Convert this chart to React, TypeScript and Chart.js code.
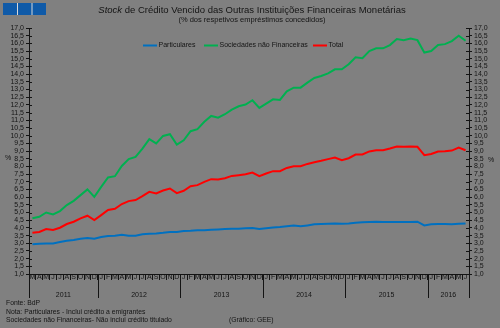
import React, { useEffect, useRef } from "react";
import { Chart, registerables } from "chart.js";

Chart.register(...registerables);

const months: string[] = [
  "M","A","M","J","J","A","S","O","N","D",
  "J","F","M","A","M","J","J","A","S","O","N","D",
  "J","F","M","A","M","J","J","A","S","O","N","D",
  "J","F","M","A","M","J","J","A","S","O","N","D",
  "J","F","M","A","M","J","J","A","S","O","N","D",
  "J","F","M","A","M","J",
];
const years: string[] = ["2011", "2012", "2013", "2014", "2015", "2016"];
const yearStarts: number[] = [0, 10, 22, 34, 46, 58];

const particulares: number[] = [
  2.93,2.97,2.99,2.99,3.08,3.16,3.21,3.29,3.34,3.29,
  3.4,3.47,3.49,3.55,3.49,3.49,3.58,3.62,3.64,3.68,
  3.73,3.73,3.79,3.81,3.84,3.84,3.88,3.9,3.92,3.94,
  3.94,3.97,3.99,3.92,3.97,4.03,4.05,4.1,4.16,4.1,
  4.16,4.23,4.25,4.27,4.29,4.27,4.29,4.33,4.36,4.38,
  4.4,4.38,4.38,4.38,4.38,4.38,4.4,4.16,4.23,4.25,
  4.25,4.23,4.27,4.29,
];
const sociedades: number[] = [
  4.62,4.72,5.0,4.88,5.09,5.48,5.76,6.13,6.5,6.02,
  6.67,7.28,7.36,8.03,8.47,8.62,9.16,9.77,9.49,9.98,
  10.09,9.42,9.7,10.29,10.42,10.9,11.28,11.17,11.39,11.69,
  11.91,12.02,12.3,11.8,12.08,12.36,12.32,12.88,13.12,13.12,
  13.45,13.75,13.88,14.05,14.31,14.31,14.64,15.09,15.03,15.5,
  15.68,15.68,15.89,16.28,16.21,16.32,16.21,15.4,15.5,15.89,
  15.95,16.15,16.5,16.17,
];
const total: number[] = [
  3.68,3.73,3.92,3.86,4.01,4.25,4.4,4.62,4.79,4.51,
  4.83,5.16,5.24,5.55,5.74,5.81,6.06,6.34,6.24,6.43,
  6.56,6.26,6.41,6.71,6.78,6.99,7.17,7.15,7.23,7.38,
  7.43,7.49,7.6,7.36,7.54,7.69,7.69,7.9,8.01,8.01,
  8.16,8.27,8.36,8.47,8.58,8.4,8.53,8.77,8.77,8.97,
  9.05,9.05,9.16,9.29,9.27,9.29,9.27,8.73,8.81,8.97,
  8.99,9.03,9.23,9.05,
];

const seriesNames: string[] = ["Particulares", "Sociedades não Financeiras", "Total"];
const seriesColors: string[] = ["#0070C0", "#00B050", "#FF0000"];

const titleItalic = "Stock";
const titleRest = " de Crédito Vencido das Outras Instituições Financeiras Monetárias";
const subtitle = "(% dos respetivos empréstimos concedidos)";
const footer: string[] = [
  "Fonte: BdP",
  "Nota: Particulares - Inclui crédito a emigrantes",
  "Sociedades não Financeiras- Não inclui crédito titulado",
];
const credit = "(Gráfico: GEE)";

const FONT = '"Liberation Sans", Arial, sans-serif';
const INK = "#141414";

const decorPlugin = {
  id: "decor",
  afterDraw(chart: any) {
    const ctx = chart.ctx as CanvasRenderingContext2D;
    const xs = chart.scales.x;
    const area = chart.chartArea;
    ctx.save();

    // logo
    ctx.fillStyle = "#0F5AA8";
    ctx.fillRect(3, 3, 43, 12);
    ctx.fillStyle = "#d8d8d8";
    ctx.fillRect(17, 3, 1, 12);
    ctx.fillRect(31.5, 3, 1, 12);

    // title
    ctx.fillStyle = INK;
    ctx.textBaseline = "middle";
    ctx.textAlign = "left";
    ctx.font = `italic 9.5px ${FONT}`;
    const wI = ctx.measureText(titleItalic).width;
    ctx.font = `9.5px ${FONT}`;
    const wR = ctx.measureText(titleRest).width;
    let tx = 252 - (wI + wR) / 2;
    ctx.font = `italic 9.5px ${FONT}`;
    ctx.fillText(titleItalic, tx, 10);
    ctx.font = `9.5px ${FONT}`;
    ctx.fillText(titleRest, tx + wI, 10);

    ctx.font = `7.5px ${FONT}`;
    ctx.textAlign = "center";
    ctx.fillText(subtitle, 252, 19.5);

    // legend
    const legX = [143, 204, 313];
    ctx.font = `7px ${FONT}`;
    ctx.textAlign = "left";
    for (let i = 0; i < seriesNames.length; i++) {
      ctx.strokeStyle = seriesColors[i];
      ctx.lineWidth = 2;
      ctx.beginPath();
      ctx.moveTo(legX[i], 45.5);
      ctx.lineTo(legX[i] + 14, 45.5);
      ctx.stroke();
      ctx.fillStyle = INK;
      ctx.fillText(seriesNames[i], legX[i] + 15.5, 45.5);
    }

    // inner tick marks on both y axes
    ctx.strokeStyle = INK;
    ctx.lineWidth = 1;
    const ys = chart.scales.y;
    ys.ticks.forEach((t: any) => {
      const py = Math.round(ys.getPixelForValue(t.value)) + 0.5;
      ctx.beginPath();
      ctx.moveTo(area.left, py);
      ctx.lineTo(area.left + 3, py);
      ctx.moveTo(area.right - 3, py);
      ctx.lineTo(area.right, py);
      ctx.stroke();
    });

    // % labels
    ctx.fillStyle = INK;
    ctx.font = `7px ${FONT}`;
    ctx.textAlign = "center";
    ctx.fillText("%", 8, 158);
    ctx.fillText("%", 491, 160);

    // year separators and labels
    const step = xs.getPixelForValue(1) - xs.getPixelForValue(0);
    const edge = (k: number) =>
      k < months.length ? xs.getPixelForValue(k) - step / 2 : xs.getPixelForValue(months.length - 1) + step / 2;
    const bounds = [...yearStarts, months.length];
    ctx.beginPath();
    bounds.forEach((k) => {
      const px = Math.round(edge(k)) + 0.5;
      ctx.moveTo(px, area.bottom);
      ctx.lineTo(px, area.bottom + 24);
    });
    ctx.stroke();
    ctx.font = `7px ${FONT}`;
    for (let i = 0; i < years.length; i++) {
      const mid = (edge(bounds[i]) + edge(bounds[i + 1])) / 2;
      ctx.fillText(years[i], mid, area.bottom + 21);
    }

    // footer
    ctx.textAlign = "left";
    ctx.font = `6.8px ${FONT}`;
    ctx.fillText(footer[0], 6, 303.5);
    ctx.fillText(footer[1], 6, 312);
    ctx.fillText(footer[2], 6, 320.3);
    ctx.fillText(credit, 229, 320.3);

    ctx.restore();
  },
};

export default function App() {
  const ref = useRef<HTMLCanvasElement | null>(null);

  useEffect(() => {
    if (!ref.current) return;
    const fmt = (v: any) => Number(v).toFixed(1).replace(".", ",");
    const yCommon = {
      min: 1,
      max: 17,
      ticks: {
        stepSize: 0.5,
        autoSkip: false,
        callback: fmt,
        font: { size: 7, family: FONT },
        color: INK,
        padding: 2,
      },
      grid: { drawOnChartArea: false, drawTicks: true, tickLength: 3, color: INK },
      border: { display: true, color: INK },
    };
    const chart = new Chart(ref.current, {
      type: "line",
      data: {
        labels: months,
        datasets: [
          { label: seriesNames[0], data: particulares, borderColor: seriesColors[0], backgroundColor: seriesColors[0] },
          { label: seriesNames[1], data: sociedades, borderColor: seriesColors[1], backgroundColor: seriesColors[1] },
          { label: seriesNames[2], data: total, borderColor: seriesColors[2], backgroundColor: seriesColors[2] },
        ],
      },
      options: {
        animation: false,
        responsive: false,
        maintainAspectRatio: false,
        layout: { padding: { top: 28, left: 0, right: 0, bottom: 0 } },
        elements: {
          point: { radius: 0, hoverRadius: 0 },
          line: { borderWidth: 2, tension: 0 },
        },
        plugins: {
          legend: { display: false },
          title: { display: false },
          tooltip: { enabled: false },
        },
        scales: {
          x: {
            type: "category",
            offset: true,
            grid: { offset: true, drawOnChartArea: false, drawTicks: true, tickLength: 6, color: INK },
            border: { display: true, color: INK },
            ticks: {
              autoSkip: false,
              maxRotation: 0,
              minRotation: 0,
              font: { size: 7, family: FONT },
              color: INK,
              padding: -7,
            },
            afterFit: (s: any) => {
              s.height = 54;
            },
          },
          y: {
            ...yCommon,
            position: "left",
            afterFit: (s: any) => {
              s.width = 29;
            },
          },
          y2: {
            ...yCommon,
            position: "right",
            afterFit: (s: any) => {
              s.width = 31;
            },
          },
        } as any,
      },
      plugins: [decorPlugin],
    } as any);
    return () => chart.destroy();
  }, []);

  return (
    <div
      style={{
        position: "absolute",
        left: 0,
        top: 0,
        width: 500,
        height: 328,
        background: "#808080",
      }}
    >
      <canvas ref={ref} width={500} height={328} style={{ display: "block", width: 500, height: 328 }} />
    </div>
  );
}
